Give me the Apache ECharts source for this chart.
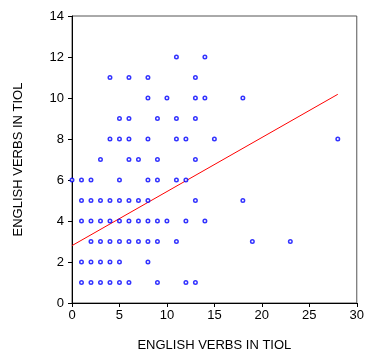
<!DOCTYPE html>
<html><head><meta charset="utf-8">
<script src="https://cdn.jsdelivr.net/npm/echarts@6/dist/echarts.min.js"></script>
<style>html,body{margin:0;padding:0;background:#fff}#c{width:367px;height:361px}</style>
</head><body><div id="c"></div>
<script>
const xs = [11,14, 4,6,8,13, 8,10,13,14,18, 5,6,9,11,13, 4,5,6,8,11,12,15,28, 3,6,7,9,13,
  0,1,2,5,8,9,11,12, 1,2,3,4,5,6,7,8,13,18, 1,2,3,4,5,6,7,8,9,10,12,14,
  2,3,4,5,6,7,8,9,11,19,23, 1,2,3,4,5,8, 1,2,3,4,5,6,9,12,13];
const ys = [12,12, 11,11,11,11, 10,10,10,10,10, 9,9,9,9,9, 8,8,8,8,8,8,8,8, 7,7,7,7,7,
  6,6,6,6,6,6,6,6, 5,5,5,5,5,5,5,5,5,5, 4,4,4,4,4,4,4,4,4,4,4,4,
  3,3,3,3,3,3,3,3,3,3,3, 2,2,2,2,2,2, 1,1,1,1,1,1,1,1,1];
const lineX = [0, 28];
const lineY = [2.8, 10.18];
const xTicks = [0,5,10,15,20,25,30];
const yTicks = [0,2,4,6,8,10,12,14];
const axisTitle = 'ENGLISH VERBS IN TIOL';

const chart = echarts.init(document.getElementById('c'), null, {renderer:'canvas'});
const font = 'Liberation Sans';
chart.setOption({
  animation:false,
  grid:{left:72,right:7,top:16,bottom:58,show:true,borderColor:'#555',borderWidth:1},
  xAxis:{type:'value',min:0,max:30,interval:5,
    name:axisTitle,nameLocation:'middle',nameGap:36,
    nameTextStyle:{fontFamily:font,fontSize:13,color:'#000'},
    axisLine:{show:true,onZero:false,lineStyle:{color:'#000',width:1}},
    axisTick:{show:true,length:4,lineStyle:{color:'#000'}},
    axisLabel:{fontFamily:font,fontSize:13,color:'#000',margin:6},
    splitLine:{show:false}},
  yAxis:{type:'value',min:0,max:14,interval:2,
    name:axisTitle,nameLocation:'middle',nameGap:47,nameRotate:90,
    nameTextStyle:{fontFamily:font,fontSize:13,color:'#000'},
    axisLine:{show:true,onZero:false,lineStyle:{color:'#000',width:1}},
    axisTick:{show:true,length:4,lineStyle:{color:'#000'}},
    axisLabel:{fontFamily:font,fontSize:13,color:'#000',margin:8},
    splitLine:{show:false}},
  series:[
    {type:'line',data:lineX.map((x,i)=>[x,lineY[i]]),symbol:'none',
      lineStyle:{color:'#ff0000',width:1},z:1},
    {type:'scatter',data:xs.map((x,i)=>[x,ys[i]]),symbol:'circle',symbolSize:3.5,
      itemStyle:{color:'#fff',borderColor:'#0000ff',borderWidth:1.5},z:2}
  ]
});
</script></body></html>
